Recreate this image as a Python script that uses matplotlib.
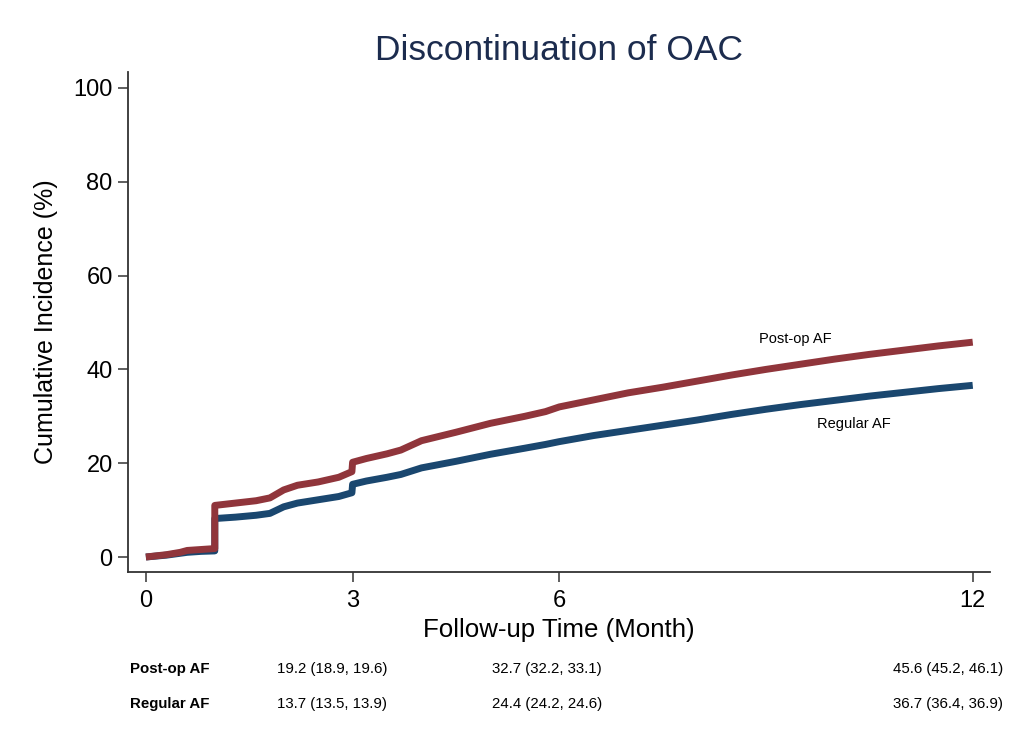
import matplotlib.pyplot as plt

plt.rcParams["font.family"] = ["Liberation Sans", "DejaVu Sans"]

NAVY = "#1A476F"
MAROON = "#90353B"

# cumulative incidence curves (months, %)
postop_months = [0, 0.3, 0.5, 0.6, 0.8, 1.0, 1.0, 1.3, 1.6, 1.8, 2.0, 2.2, 2.5, 2.8,
                 2.99, 3.0, 3.2, 3.5, 3.7, 4.0, 4.5, 5.0, 5.5, 5.8, 6.0, 6.5, 7.0,
                 7.5, 8.0, 8.5, 9.0, 9.5, 10.0, 10.5, 11.0, 11.5, 12.0]
postop_values = [0, 0.5, 1.0, 1.4, 1.6, 1.8, 11.0, 11.5, 12.0, 12.6, 14.3, 15.3, 16.0,
                 17.0, 18.2, 20.2, 21.0, 22.0, 22.8, 24.8, 26.6, 28.5, 30.0, 31.0, 32.0,
                 33.5, 35.0, 36.2, 37.5, 38.8, 40.0, 41.1, 42.2, 43.2, 44.1, 45.0, 45.8]

regular_months = [0, 0.3, 0.5, 0.6, 0.8, 1.0, 1.0, 1.3, 1.6, 1.8, 2.0, 2.2, 2.5, 2.8,
                  2.99, 3.0, 3.2, 3.5, 3.7, 4.0, 4.5, 5.0, 5.5, 5.8, 6.0, 6.5, 7.0,
                  7.5, 8.0, 8.5, 9.0, 9.5, 10.0, 10.5, 11.0, 11.5, 12.0]
regular_values = [0, 0.4, 0.8, 1.0, 1.2, 1.3, 8.2, 8.5, 8.9, 9.3, 10.7, 11.5, 12.2,
                  12.9, 13.7, 15.5, 16.2, 17.0, 17.6, 19.0, 20.4, 21.9, 23.2, 24.0, 24.6,
                  25.9, 27.0, 28.1, 29.2, 30.4, 31.5, 32.5, 33.4, 34.3, 35.1, 35.9, 36.6]

x_ticks = [0, 3, 6, 12]
y_ticks = [0, 20, 40, 60, 80, 100]

# risk table below the plot
table_groups = ["Post-op AF", "Regular AF"]
table_postop = ["19.2 (18.9, 19.6)", "32.7 (32.2, 33.1)", "45.6 (45.2, 46.1)"]
table_regular = ["13.7 (13.5, 13.9)", "24.4 (24.2, 24.6)", "36.7 (36.4, 36.9)"]
table_x = [277, 492, 893]  # left edge of each column, pixels

fig = plt.figure(figsize=(10.14, 7.40), dpi=100)
ax = fig.add_axes([0.1262, 0.2270, 0.8501, 0.6757])

ax.plot(regular_months, regular_values, color=NAVY, lw=5, solid_capstyle="butt")
ax.plot(postop_months, postop_values, color=MAROON, lw=5, solid_capstyle="butt")

ax.set_xlim(-0.26, 12.25)
ax.set_ylim(-3.2, 103.4)
ax.set_xticks(x_ticks)
ax.set_yticks(y_ticks)

for side in ["top", "right"]:
    ax.spines[side].set_visible(False)
for side in ["left", "bottom"]:
    ax.spines[side].set_color("#333333")
    ax.spines[side].set_linewidth(1.3)
ax.tick_params(axis="both", length=7, width=1.1, color="#333333", labelsize=17)
ax.tick_params(axis="x", pad=6)
ax.tick_params(axis="y", pad=4)

ax.set_title("Discontinuation of OAC", fontsize=25.5, color="#1C2C4E", pad=9)
ax.set_xlabel("Follow-up Time (Month)", fontsize=18.6, labelpad=4)
ax.set_ylabel("Cumulative Incidence (%)", fontsize=18, labelpad=11)

ax.text(9.42, 45.0, "Post-op AF", fontsize=10.5, ha="center", va="bottom")
ax.text(10.28, 28.3, "Regular AF", fontsize=10.5, ha="center", va="center")

W, H = 1014, 740
rows_y = [669, 704]
for gi, (name, vals) in enumerate(zip(table_groups, [table_postop, table_regular])):
    fy = 1 - rows_y[gi] / H
    fig.text(130 / W, fy, name, fontsize=10.8, fontweight="bold", ha="left", va="center")
    for xp, v in zip(table_x, vals):
        fig.text(xp / W, fy, v, fontsize=10.8, ha="left", va="center")

fig.savefig("out.png", dpi=100, facecolor="white")
